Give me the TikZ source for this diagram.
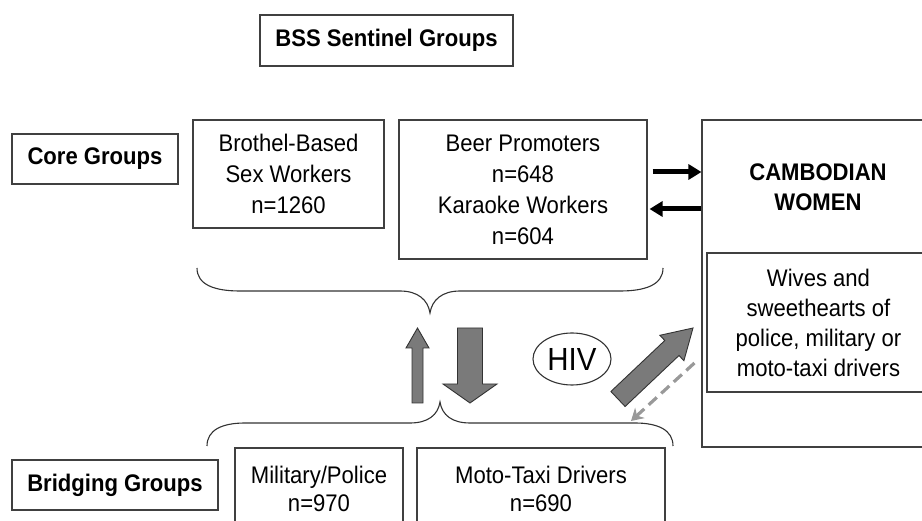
\documentclass[tikz,border=0pt]{standalone}
\usepackage{fontspec}
\setmainfont{Liberation Sans}[FakeStretch=0.92]
\usetikzlibrary{arrows.meta,shapes.geometric,calc}
\begin{document}
\begin{tikzpicture}[x=1pt,y=-1pt,
  box/.style={draw=black!75,line width=1.1pt,rectangle,inner sep=0pt,align=center,
              font=\fontsize{24}{31}\selectfont},
  lbl/.style={box,font=\fontsize{24}{31}\selectfont\bfseries},
  plain/.style={inner sep=0pt,align=center,font=\fontsize{24}{30}\selectfont},
  blk/.style={line width=5pt,-{Triangle[length=13pt,width=15pt]}},
  blockarrow/.style={fill=black!52,draw=black!80,line width=0.9pt,line join=miter},
  brace/.style={draw=black!80,line width=1.1pt},
  dasharrow/.style={draw=black!40,line width=3.2pt,dash pattern=on 11pt off 6pt,
                    -{Stealth[length=12pt,width=14pt]}}]
\useasboundingbox (0,0) rectangle (922,521);
\clip (0,0) rectangle (922,521);

% labels
\node[lbl,minimum width=253pt,minimum height=51pt] (bss) at (386.5,40.5) {BSS Sentinel Groups};
\node[lbl,minimum width=166pt,minimum height=50pt] (core) at (95,159) {Core Groups};
\node[lbl,minimum width=206pt,minimum height=50pt] (bridging) at (115,485) {Bridging Groups};

% core group boxes
\node[box,minimum width=191pt,minimum height=108pt] (brothel) at (288.5,174)
  {Brothel-Based\\Sex Workers\\n=1260};
\node[box,minimum width=248pt,minimum height=139pt] (beer) at (523,189.5)
  {Beer Promoters\\n=648\\Karaoke Workers\\n=604};

% Cambodian women
\node[box,minimum width=233pt,minimum height=327pt] (women) at (818.5,283.5) {};
\node[plain,font=\fontsize{24}{30}\selectfont\bfseries] (wtitle) at (818,187) {CAMBODIAN\\WOMEN};
\node[box,minimum width=223pt,minimum height=139pt,font=\fontsize{24}{30}\selectfont] (wives) at (818.5,322.5)
  {Wives and\\sweethearts of\\police, military or\\moto-taxi drivers};

% bridging boxes
\node[box,minimum width=168pt,minimum height=82pt,font=\fontsize{24}{28}\selectfont] (military) at (319,489)
  {Military/Police\\n=970};
\node[box,minimum width=248pt,minimum height=82pt,font=\fontsize{24}{28}\selectfont] (moto) at (541,489)
  {Moto-Taxi Drivers\\n=690};

% HIV
\node[ellipse,draw=black!80,line width=1.1pt,minimum width=78pt,minimum height=52pt,inner sep=0pt,
      font=\fontsize{32}{32}\selectfont] (hiv) at (572,359) {HIV};

% arrows between core and women
\draw[blk] ([xshift=5pt,yshift=17.5pt]beer.east) -- ([yshift=111.5pt]women.west);
\draw[blk] ([yshift=74.5pt]women.west) -- ([xshift=2pt,yshift=-19.5pt]beer.east);

% top brace
\draw[brace] (197,268) .. controls (197,285) and (215,291) .. (240,291) -- (400,291)
  .. controls (418,291) and (428,300) .. (430,313)
  .. controls (432,300) and (442,291) .. (460,291) -- (620,291)
  .. controls (645,291) and (663,285) .. (663,268);

% bottom brace
\draw[brace] (207,446) .. controls (207,430) and (222,423) .. (245,423) -- (410,423)
  .. controls (428,423) and (438,415) .. (440,402)
  .. controls (442,415) and (452,423) .. (470,423) -- (635,423)
  .. controls (658,423) and (673,430) .. (673,446);

% block arrows
\draw[blockarrow] (412,403) -- (412,348) -- (406,348) -- (417.5,328) -- (429,348) -- (423,348) -- (423,403) -- cycle;
\draw[blockarrow] (457.5,328) -- (482.5,328) -- (482.5,384) -- (497,384) -- (470,403) -- (443,384) -- (457.5,384) -- cycle;
\draw[blockarrow] (610.9,391.5) -- (664.8,340.5) -- (659.9,335.3) -- (693,328) -- (683.9,360.7) -- (679.0,355.5) -- (625.1,406.5) -- cycle;

% dashed return arrow
\coordinate (bb) at (631,421);
\draw[dasharrow] ([xshift=-12pt,yshift=-40.5pt]wives.west) -- (bb);
\end{tikzpicture}
\end{document}
